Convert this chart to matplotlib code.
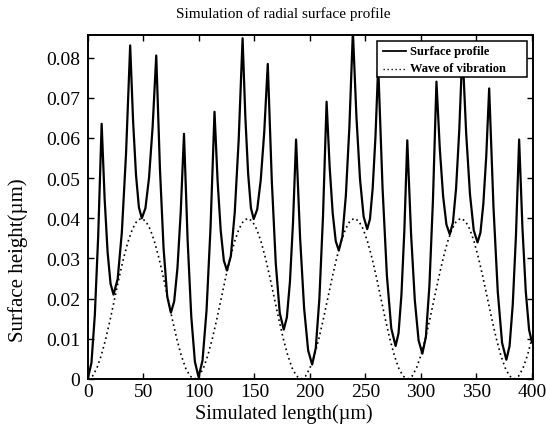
import matplotlib
matplotlib.use("Agg")
import matplotlib.pyplot as plt
from matplotlib.ticker import FixedLocator, FuncFormatter
from matplotlib.patches import Rectangle
from matplotlib.lines import Line2D

# ---- data ----
prof_x = [0, 3.1, 6.15, 9.2, 12.3,
          14.98, 17.65, 20.33, 23.0, 26.75, 30.5, 34.25, 38.0,
          40.63, 43.25, 45.88, 48.5, 51.75, 55.0, 58.25, 61.5,
          64.8, 68.1, 71.4, 74.7, 77.65, 80.6, 83.55, 86.5,
          89.78, 93.05, 96.33, 99.6, 103.2, 106.8, 110.4, 114.0,
          116.8, 119.6, 122.4, 125.2, 128.73, 132.25, 135.78, 139.3,
          141.8, 144.3, 146.8, 149.3, 152.48, 155.65, 158.83, 162.0,
          165.6, 169.2, 172.8, 176.4, 179.18, 181.95, 184.73, 187.5,
          191.13, 194.75, 198.38, 202.0, 205.25, 208.5, 211.75, 215.0,
          217.75, 220.5, 223.25, 226.0, 229.18, 232.35, 235.53, 238.7,
          241.93, 245.15, 248.38, 251.6, 254.08, 256.55, 259.03, 261.5,
          265.43, 269.35, 273.28, 277.2, 279.83, 282.45, 285.08, 287.7,
          291.1, 294.5, 297.9, 301.3, 304.48, 307.65, 310.83, 314.0,
          317.0, 320.0, 323.0, 326.0, 328.85, 331.7, 334.55, 337.4,
          340.8, 344.2, 347.6, 351.0, 353.63, 356.25, 358.88, 361.5,
          365.38, 369.25, 373.13, 377.0, 379.88, 382.75, 385.63, 388.5,
          391.5, 394.5, 397.5, 400.0]
prof_y = [0.0003, 0.0040, 0.0159, 0.0357, 0.0635,
          0.0449, 0.0316, 0.0237, 0.0210, 0.0249, 0.0365, 0.0559, 0.0830,
          0.0642, 0.0508, 0.0427, 0.0400, 0.0425, 0.0501, 0.0628, 0.0805,
          0.0525, 0.0325, 0.0205, 0.0165, 0.0193, 0.0276, 0.0415, 0.0610,
          0.0345, 0.0156, 0.0043, 0.0005, 0.0046, 0.0170, 0.0376, 0.0665,
          0.0492, 0.0369, 0.0295, 0.0270, 0.0306, 0.0415, 0.0595, 0.0848,
          0.0651, 0.0511, 0.0426, 0.0398, 0.0422, 0.0495, 0.0615, 0.0784,
          0.0495, 0.0288, 0.0164, 0.0123, 0.0153, 0.0241, 0.0389, 0.0596,
          0.0351, 0.0176, 0.0071, 0.0036, 0.0077, 0.0200, 0.0404, 0.0690,
          0.0528, 0.0413, 0.0343, 0.0320, 0.0354, 0.0456, 0.0627, 0.0865,
          0.0650, 0.0496, 0.0404, 0.0373, 0.0398, 0.0475, 0.0602, 0.0780,
          0.0475, 0.0257, 0.0126, 0.0082, 0.0114, 0.0210, 0.0370, 0.0594,
          0.0362, 0.0196, 0.0096, 0.0063, 0.0105, 0.0232, 0.0444, 0.0740,
          0.0574, 0.0455, 0.0384, 0.0360, 0.0389, 0.0475, 0.0619, 0.0820,
          0.0610, 0.0460, 0.0370, 0.0340, 0.0364, 0.0436, 0.0555, 0.0723,
          0.0428, 0.0217, 0.0090, 0.0048, 0.0082, 0.0185, 0.0356, 0.0596,
          0.0375, 0.0217, 0.0122, 0.0092]

wave_x = [0, 4, 8, 12, 16, 20, 24, 28, 32, 36, 40, 44, 48, 52, 56, 60, 64, 68, 72, 76,
          80, 84, 88, 92, 96, 100, 104, 108, 112, 116, 120, 124, 128, 132, 136, 140, 144,
          148, 152, 156, 160, 164, 168, 172, 176, 180, 184, 188, 192, 196, 200, 204, 208,
          212, 216, 220, 224, 228, 232, 236, 240, 244, 248, 252, 256, 260, 264, 268, 272,
          276, 280, 284, 288, 292, 296, 300, 304, 308, 312, 316, 320, 324, 328, 332, 336,
          340, 344, 348, 352, 356, 360, 364, 368, 372, 376, 380, 384, 388, 392, 396, 400]
wave_y = [0.0000, 0.0007, 0.0027, 0.0059, 0.0100, 0.0148, 0.0200, 0.0252, 0.0300, 0.0341,
          0.0373, 0.0393, 0.0400, 0.0393, 0.0373, 0.0341, 0.0300, 0.0252, 0.0200, 0.0148,
          0.0100, 0.0059, 0.0027, 0.0007,
          0.0000, 0.0007, 0.0027, 0.0059, 0.0100, 0.0148, 0.0200, 0.0252, 0.0300, 0.0341,
          0.0373, 0.0393, 0.0400, 0.0393, 0.0373, 0.0341, 0.0300, 0.0252, 0.0200, 0.0148,
          0.0100, 0.0059, 0.0027, 0.0007,
          0.0000, 0.0007, 0.0027, 0.0059, 0.0100, 0.0148, 0.0200, 0.0252, 0.0300, 0.0341,
          0.0373, 0.0393, 0.0400, 0.0393, 0.0373, 0.0341, 0.0300, 0.0252, 0.0200, 0.0148,
          0.0100, 0.0059, 0.0027, 0.0007,
          0.0000, 0.0007, 0.0027, 0.0059, 0.0100, 0.0148, 0.0200, 0.0252, 0.0300, 0.0341,
          0.0373, 0.0393, 0.0400, 0.0393, 0.0373, 0.0341, 0.0300, 0.0252, 0.0200, 0.0148,
          0.0100, 0.0059, 0.0027, 0.0007,
          0.0000, 0.0007, 0.0027, 0.0059, 0.0100]

x_ticks = [0, 50, 100, 150, 200, 250, 300, 350, 400]
y_ticks = [0, 0.01, 0.02, 0.03, 0.04, 0.05, 0.06, 0.07, 0.08]
title = "Simulation of radial surface profile"
xlabel = "Simulated length(\u00b5m)"
ylabel = "Surface height(\u00b5m)"
series_names = ["Surface profile", "Wave of vibration"]

# ---- figure ----
plt.rcParams['font.family'] = ['Liberation Serif', 'DejaVu Serif']

W, H = 546, 427
fig = plt.figure(figsize=(W / 100, H / 100), dpi=100)
ax = fig.add_axes([88 / W, 1 - 380 / H, (533 - 88) / W, (380 - 36) / H])

solid_style = dict(color='black', lw=1.6)
dot_style = dict(color='black', lw=1.2, linestyle=(0, (1.0, 2.0)))

ax.plot(prof_x, prof_y, label=series_names[0], **solid_style)
ax.plot(wave_x, wave_y, label=series_names[1], **dot_style)

ax.set_xlim(0, 401)
ax.set_ylim(0, 0.0856)
ax.xaxis.set_major_locator(FixedLocator(x_ticks))
ax.yaxis.set_major_locator(FixedLocator(y_ticks))
ax.yaxis.set_major_formatter(FuncFormatter(lambda v, p: "0" if abs(v) < 1e-12 else f"{v:.2f}"))
ax.tick_params(direction='in', top=True, right=True, length=4, width=1.0,
               labelsize=14, colors='black')
ax.tick_params(axis='y', pad=5.5)
ax.tick_params(axis='x', pad=3.0)
for s in ax.spines.values():
    s.set_linewidth(1.4)

# legend: box drawn as a patch, entries drawn with legend-like handles
box = Rectangle((377 / W, 1 - 78 / H), (527 - 377) / W, (78 - 42) / H,
                transform=fig.transFigure, facecolor='white', edgecolor='black',
                lw=1.1, zorder=5)
fig.patches.append(box)
rows = [(1 - 52 / H, solid_style), (1 - 69.5 / H, dot_style)]
for (yy, st), name in zip(rows, series_names):
    fig.add_artist(Line2D([383 / W, 406 / W], [yy, yy], transform=fig.transFigure,
                          zorder=6, **{**st, 'lw': st['lw'] * 0.8}))
    fig.text(410 / W, yy, name, ha='left', va='center', fontsize=9,
             fontweight='bold', zorder=7)

fig.text(283 / W, 1 - 14 / H, title, ha='center', va='center', fontsize=11)
fig.text(284 / W, 1 - 414 / H, xlabel, ha='center', va='center', fontsize=14.5)
fig.text(18 / W, 1 - 260 / H, ylabel, ha='center', va='center', fontsize=15,
         rotation=90)

fig.savefig("out.png", dpi=100, facecolor='white')
